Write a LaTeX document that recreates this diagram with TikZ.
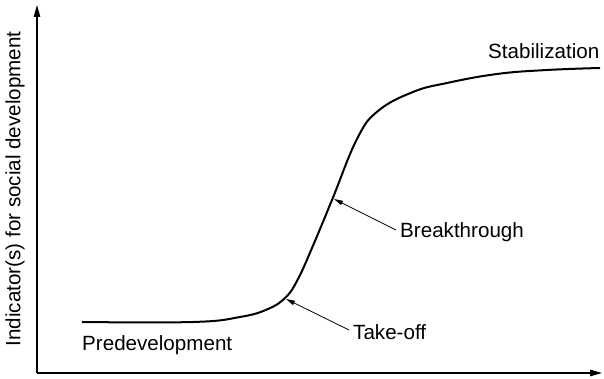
\documentclass[tikz,border=0pt]{standalone}
\usepackage{fontspec}
\setmainfont{Liberation Sans}
\usepackage{tikz}
\usetikzlibrary{arrows.meta, positioning}

\begin{document}
\begin{tikzpicture}[
    x=1pt, y=1pt,
    axis/.style={line width=1.3pt, -{Triangle[length=12pt, width=6.5pt]}},
    curve/.style={line width=2pt, line join=round},
    pointer/.style={line width=0.8pt, -{Triangle[length=9pt, width=4.5pt]}},
    lbl/.style={font=\fontsize{20.6}{24}\selectfont, inner sep=2pt, anchor=west}
]
    \useasboundingbox (0,0) rectangle (604,379);

    % axes
    \coordinate (origin) at (37,6);
    \coordinate (ytop) at (37,374);
    \coordinate (xend) at (602,6);
    \draw[axis] (origin) -- (ytop);
    \draw[axis] (origin) -- (xend);
    \node[font=\fontsize{20.6}{24}\selectfont, rotate=90] (ylabel) at (15,190) {Indicator(s) for social development};

    % S-curve
    \draw[curve] plot[smooth, tension=0.7] coordinates {
        (82,57) (193,57) (240,62) (268,70) (286,82) (298,100) (312,131)
        (332,179) (357,240) (378,268) (413,287) (447,296) (497,305)
        (547,309) (600,311)};

    \coordinate (takepoint) at (286,80);
    \coordinate (breakpoint) at (334,180);

    % labels
    \node[lbl] (predev) at (80,34) {Predevelopment};
    \node[lbl] (takeoff) at (351,47) {Take-off};
    \node[lbl] (breakthr) at (398,147) {Breakthrough};
    \node[lbl] (stabil) at (486,328) {Stabilization};

    \draw[pointer] (takeoff.west) ++(-2,2) -- (takepoint);
    \draw[pointer] (breakthr.west) ++(-2,2) -- (breakpoint);
\end{tikzpicture}
\end{document}
